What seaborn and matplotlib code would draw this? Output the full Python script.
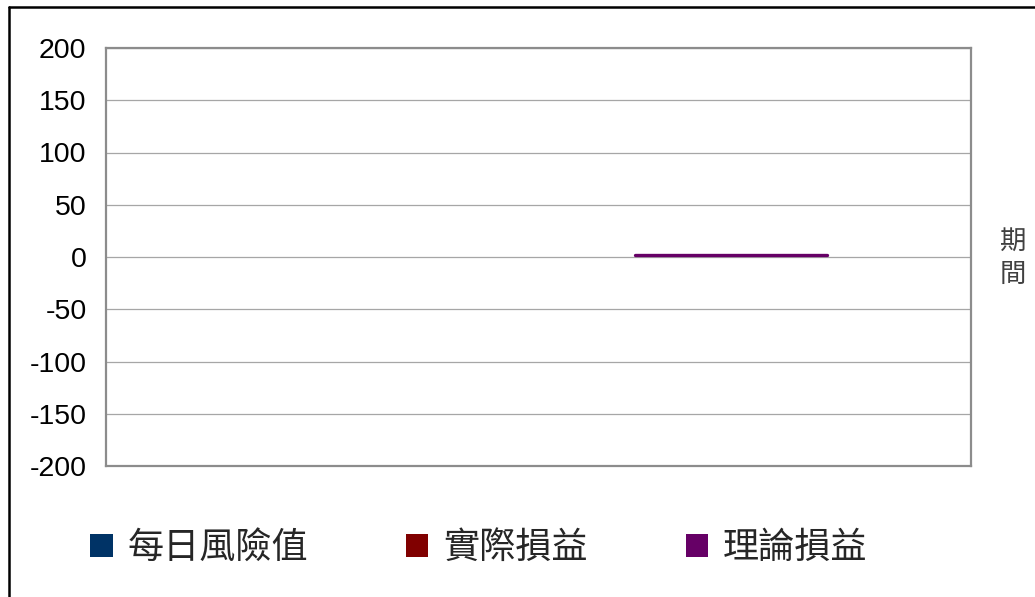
import numpy as np
import pandas as pd
import matplotlib.pyplot as plt
import seaborn as sns
from matplotlib.patches import Patch
from matplotlib.lines import Line2D

# chart values
periods = list(range(9))
series_names = ['每日風險值', '實際損益', '理論損益']
var_values = [np.nan] * 9
actual_pnl = [np.nan] * 9
theory_pnl = [np.nan, np.nan, np.nan, np.nan, np.nan, 1.5, 1.5, 1.5, np.nan]
series_colors = ['#003366', '#800000', '#660066']
y_ticks = [-200, -150, -100, -50, 0, 50, 100, 150, 200]


def build_frame():
    rows = []
    for name, vals in zip(series_names, [var_values, actual_pnl, theory_pnl]):
        for p, v in zip(periods, vals):
            rows.append({'期間': p, '值': v, '系列': name})
    return pd.DataFrame(rows)


def plot_chart(df):
    sns.set_theme(style='white')
    plt.rcParams['font.family'] = ['Liberation Sans', 'Noto Sans CJK TC']

    fig = plt.figure(figsize=(10.35, 5.97), dpi=100)
    ax = fig.add_axes([106 / 1035, 1 - 466 / 597, 865 / 1035, 418 / 597])

    palette = dict(zip(series_names, series_colors))
    for name in series_names:
        sub = df[df['系列'] == name].dropna()
        if len(sub):
            sns.lineplot(data=sub, x='期間', y='值', color=palette[name],
                         linewidth=2.4, ax=ax, legend=False)

    ax.set_xlim(-0.5, len(periods) - 0.5)
    ax.set_ylim(-200, 200)
    ax.set_yticks(y_ticks)
    ax.set_yticklabels([str(t) for t in y_ticks], fontsize=20.5, color='black')
    ax.set_xticks([])
    ax.set_xlabel('')
    ax.set_ylabel('')
    ax.tick_params(axis='y', length=0, pad=14)
    ax.yaxis.grid(True, color='#a6a6a6', linewidth=0.9)
    ax.set_axisbelow(True)
    for s in ax.spines.values():
        s.set_visible(True)
        s.set_color('#8c8c8c')
        s.set_linewidth(1.6)

    fig.text(1013 / 1035, 1 - 258 / 597, '期\n間', ha='center', va='center',
             fontsize=19, color='#404040', linespacing=1.3,
             family=['Noto Sans CJK TC'])

    handles = [Patch(facecolor=c, edgecolor='none') for c in series_colors]
    fig.legend(handles, series_names, loc='center',
               bbox_to_anchor=(479 / 1035, 1 - 548 / 597), ncol=3,
               frameon=False, handlelength=0.62, handleheight=0.62,
               handletextpad=0.42, columnspacing=2.7,
               prop={'family': 'Noto Sans CJK TC', 'size': 26})

    # outer frame (only top and left edges visible)
    x0, y0 = 8.5 / 1035, 1 - 7 / 597
    fig.add_artist(Line2D([x0, x0], [0, y0], transform=fig.transFigure,
                          color='black', linewidth=1.8))
    fig.add_artist(Line2D([x0, 1], [y0, y0], transform=fig.transFigure,
                          color='black', linewidth=1.8))

    fig.savefig('out.png', dpi=100, facecolor='white')


plot_chart(build_frame())
